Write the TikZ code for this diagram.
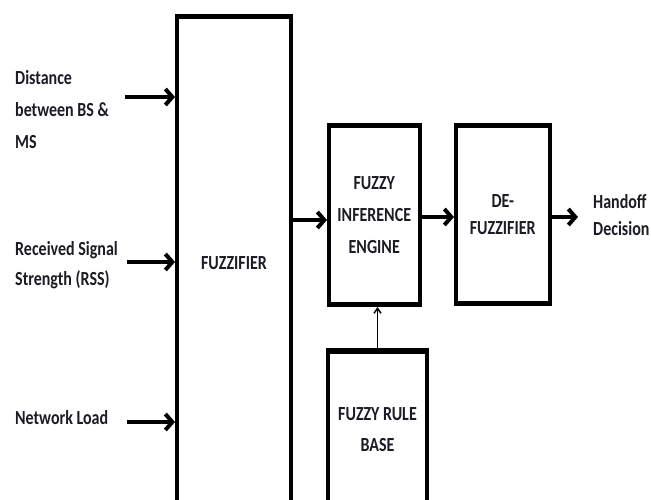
\documentclass[tikz,border=0pt]{standalone}
\usepackage{fontspec}
\setmainfont{Carlito}[FakeStretch=0.8]
\usetikzlibrary{arrows.meta}
\definecolor{ink}{HTML}{1C1C24}
\tikzset{
  box/.style={draw=black, line width=4pt, fill=white, inner sep=0pt,
    text=ink, align=center,
    font=\fontsize{20}{32}\selectfont\bfseries,
    path picture={\draw[line width=7pt]
      (path picture bounding box.north west) -- (path picture bounding box.north east)
      (path picture bounding box.south west) -- (path picture bounding box.south east);}},
  lbl/.style={inner sep=0pt, text=ink, align=left, font=\fontsize{20}{32}\selectfont\bfseries},
  flow/.style={line width=4pt, -{Straight Barb[length=7pt,width=16pt]}},
  thinflow/.style={line width=1.5pt, -{Straight Barb[length=5pt,width=7pt]}}
}
\begin{document}
\begin{tikzpicture}[x=1pt,y=-1pt]
\useasboundingbox[fill=white] (0,0) rectangle (651,500);
% boxes
\node[box, minimum width=114pt, minimum height=494pt] (fz) at (234,263) {FUZZIFIER};
\node[box, minimum width=90.5pt, minimum height=180pt] (inf) at (374.25,215) {FUZZY\\INFERENCE\\ENGINE};
\node[box, minimum width=93.5pt, minimum height=179pt, font=\fontsize{20}{27}\selectfont\bfseries] (dfz) at (502.75,214.5) {DE-\\FUZZIFIER};
\node[box, minimum width=99pt, minimum height=160pt, font=\fontsize{20}{31}\selectfont\bfseries] (rb) at (377.5,430) {FUZZY RULE\\BASE};
% input labels
\node[lbl, anchor=north west] (l1) at (15,70) {Distance\\between BS \&\\MS};
\node[lbl, anchor=north west, font=\fontsize{20}{30}\selectfont\bfseries] (l2) at (15,241) {Received Signal\\Strength (RSS)};
\node[lbl, anchor=north west] (l3) at (15,410) {Network Load};
\node[lbl, anchor=west, font=\fontsize{20}{27}\selectfont\bfseries] (out) at (593,215) {Handoff\\Decision};
% input arrows
\coordinate (i1) at (125,97);
\coordinate (i2) at (127,262);
\coordinate (i3) at (127,422);
\draw[flow] (i1) -- (i1 -| fz.west);
\draw[flow] (i2) -- (i2 -| fz.west);
\draw[flow] (i3) -- (i3 -| fz.west);
% internal arrows
\coordinate (a1) at (300,220);
\draw[flow] (a1 -| fz.east) -- (a1 -| inf.west);
\coordinate (a2) at (430,217);
\draw[flow] (a2 -| inf.east) -- (a2 -| dfz.west);
\coordinate (o1) at (578,217);
\draw[flow] (o1 -| dfz.east) -- (o1);
\draw[thinflow] (rb.north) -- (rb.north |- inf.south);
\end{tikzpicture}
\end{document}
